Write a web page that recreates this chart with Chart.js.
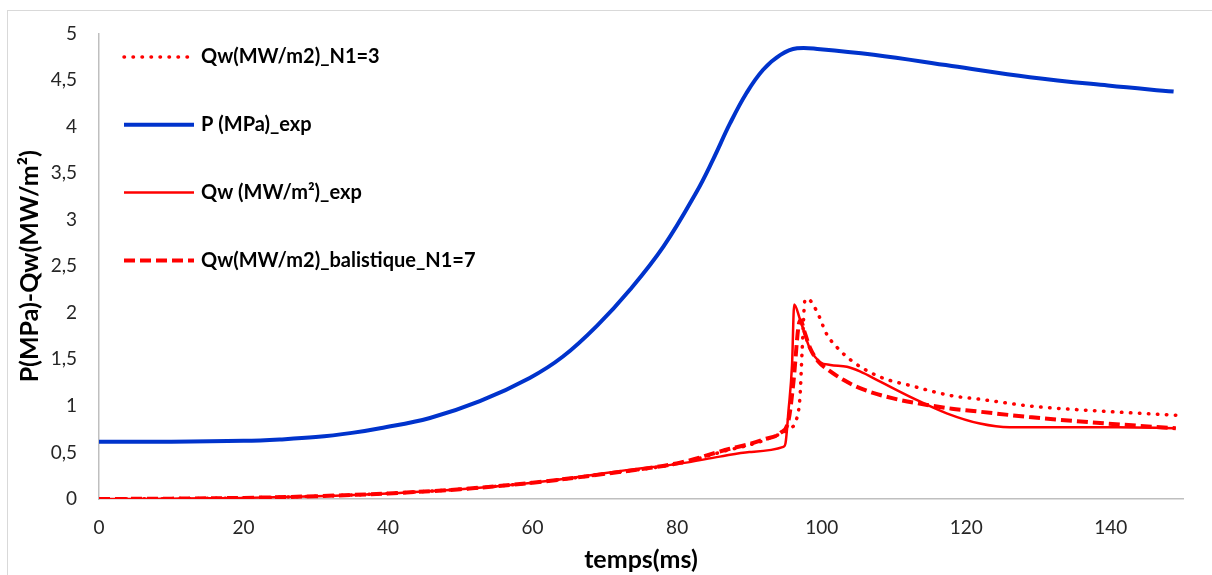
<!DOCTYPE html>
<html>
<head>
<meta charset="utf-8">
<script src="https://cdn.jsdelivr.net/npm/chart.js@4/dist/chart.umd.min.js"></script>
<style>
  html, body { margin: 0; padding: 0; background: #fff; overflow: hidden; }
  #cadre { position: absolute; left: 7px; top: 10px; width: 1400px; height: 800px; border: 1px solid #d9d9d9; }
  #graphique { position: absolute; left: 0; top: 0; }
</style>
</head>
<body>
<div id="cadre"></div>
<canvas id="graphique" width="1212" height="575"></canvas>
<script>
// valeurs (temps en ms)
const ticksX = [0, 20, 40, 60, 80, 100, 120, 140];
const ticksY = [0, 0.5, 1, 1.5, 2, 2.5, 3, 3.5, 4, 4.5, 5];

const etiquettes = ['Qw(MW/m2)_N1=3', 'P (MPa)_exp', 'Qw (MW/m²)_exp', 'Qw(MW/m2)_balistique_N1=7'];

const temps_N1_3 = [0, 10, 20, 30, 40, 50, 60, 70, 80.4, 87.3, 90, 93, 95.6, 96.5, 97.0, 97.3, 97.7, 98.0, 99.3, 100.7, 102.1, 104.4, 108.1, 112.7, 117.9, 122, 128.7, 139.5, 149];
const Qw_N1_3 = [0, 0.004, 0.012, 0.03, 0.06, 0.105, 0.175, 0.27, 0.385, 0.53, 0.58, 0.66, 0.76, 0.85, 1.1, 1.6, 2.14, 2.15, 2.02, 1.77, 1.63, 1.47, 1.31, 1.21, 1.11, 1.07, 1.0, 0.94, 0.9];

const temps_P = [0, 10, 20, 25, 30, 35, 38.9, 45.8, 52.7, 59.6, 64.2, 68.9, 73.5, 78.1, 82.7, 85, 87.3, 89.6, 91.9, 94.3, 96.6, 99.8, 107.2, 118, 128.8, 139.6, 148.7];
const P_exp = [0.615, 0.615, 0.625, 0.64, 0.665, 0.71, 0.76, 0.87, 1.05, 1.30, 1.53, 1.86, 2.25, 2.71, 3.30, 3.65, 4.03, 4.36, 4.61, 4.77, 4.84, 4.83, 4.77, 4.65, 4.53, 4.44, 4.375];

const temps_Qw_exp = [0, 10, 20, 30, 40, 50, 60, 66.6, 73, 80.4, 85.9, 90, 94.7, 95.0, 95.4, 95.9, 96.2, 97.0, 98.4, 99.8, 101.2, 103.5, 105.3, 108.1, 112.7, 117.3, 121.9, 126, 134, 141, 149];
const Qw_exp = [0, 0.004, 0.012, 0.03, 0.06, 0.105, 0.175, 0.24, 0.31, 0.38, 0.455, 0.505, 0.56, 0.6, 0.94, 1.44, 2.09, 1.93, 1.61, 1.47, 1.44, 1.42, 1.37, 1.26, 1.08, 0.92, 0.81, 0.77, 0.77, 0.77, 0.76];

const temps_balistique = [0, 10, 20, 30, 40, 50, 60, 70, 80.4, 87.3, 90, 92, 94.3, 95.4, 96.1, 96.8, 97.1, 97.6, 98.4, 99.5, 101.2, 103, 105.3, 109.9, 114.6, 118, 121, 128.7, 139.5, 149];
const Qw_balistique = [0, 0.004, 0.012, 0.03, 0.06, 0.105, 0.175, 0.27, 0.39, 0.54, 0.59, 0.64, 0.71, 0.84, 1.26, 1.86, 1.92, 1.80, 1.62, 1.48, 1.37, 1.28, 1.19, 1.08, 1.01, 0.97, 0.945, 0.88, 0.81, 0.76];

const points = (xs, ys) => xs.map((x, i) => ({ x, y: ys[i] }));
const virgule = (v) => String(v).replace('.', ',');

// legende dessinee dans la zone du graphique, comme sur l'original
const legendeInterne = {
  id: 'legendeInterne',
  afterDatasetsDraw(chart, args, opts) {
    const ctx = chart.ctx;
    chart.data.datasets.forEach((ds, i) => {
      const y = opts.y0 + i * opts.pas;
      ctx.save();
      ctx.strokeStyle = ds.borderColor;
      ctx.lineWidth = ds.borderWidth;
      ctx.lineCap = ds.borderCapStyle || 'butt';
      ctx.setLineDash(ds.borderDash || []);
      ctx.beginPath();
      ctx.moveTo(opts.x0, y);
      ctx.lineTo(opts.x0 + opts.longueur, y);
      ctx.stroke();
      ctx.setLineDash([]);
      ctx.fillStyle = '#000';
      ctx.font = opts.police;
      ctx.textBaseline = 'middle';
      ctx.fillText(ds.label, opts.x0 + opts.longueur + opts.ecart, y);
      ctx.restore();
    });
  }
};

const ctx = document.getElementById('graphique').getContext('2d');
new Chart(ctx, {
  type: 'line',
  data: {
    datasets: [
      {
        label: etiquettes[0],
        data: points(temps_N1_3, Qw_N1_3),
        borderColor: '#ff0000',
        borderWidth: 3.5,
        borderDash: [0.5, 8.5],
        borderCapStyle: 'round',
        pointRadius: 0,
        cubicInterpolationMode: 'monotone'
      },
      {
        label: etiquettes[1],
        data: points(temps_P, P_exp),
        borderColor: '#0033cc',
        borderWidth: 4,
        pointRadius: 0,
        tension: 0.4
      },
      {
        label: etiquettes[2],
        data: points(temps_Qw_exp, Qw_exp),
        borderColor: '#ff0000',
        borderWidth: 2.5,
        pointRadius: 0,
        cubicInterpolationMode: 'monotone'
      },
      {
        label: etiquettes[3],
        data: points(temps_balistique, Qw_balistique),
        borderColor: '#ff0000',
        borderWidth: 4,
        borderDash: [11, 5],
        pointRadius: 0,
        cubicInterpolationMode: 'monotone'
      }
    ]
  },
  options: {
    responsive: false,
    animation: false,
    layout: { padding: { left: 0, right: 29, top: 27, bottom: 0 } },
    plugins: {
      legend: { display: false },
      tooltip: { enabled: false },
      legendeInterne: { x0: 124, longueur: 70, ecart: 7, y0: 57, pas: 67.8, police: 'bold 20px Lato' }
    },
    scales: {
      x: {
        type: 'linear',
        min: 0,
        max: 150,
        afterBuildTicks: (scale) => { scale.ticks = ticksX.map(v => ({ value: v })); },
        afterFit: (scale) => { scale.height = 76; },
        grid: { display: false, drawTicks: false },
        border: { display: true, color: '#bfbfbf', width: 1.5 },
        ticks: { padding: 17, color: '#262626', font: { family: 'Lato', size: 19 }, maxRotation: 0 },
        title: { display: true, text: 'temps(ms)', color: '#000', font: { family: 'Lato', size: 25, weight: 'bold' }, padding: { top: 2, bottom: 0 } }
      },
      y: {
        min: 0,
        max: 5,
        afterBuildTicks: (scale) => { scale.ticks = ticksY.map(v => ({ value: v })); },
        afterFit: (scale) => { scale.width = 99; },
        grid: { display: false, drawTicks: false },
        border: { display: true, color: '#bfbfbf', width: 1.5 },
        ticks: { padding: 22, color: '#262626', font: { family: 'Lato', size: 19 }, callback: virgule },
        title: { display: true, text: 'P(MPa)-Qw(MW/m²)', color: '#000', font: { family: 'Lato', size: 25, weight: 'bold' }, padding: { top: 15, bottom: 0 } }
      }
    }
  },
  plugins: [legendeInterne]
});
</script>
</body>
</html>
